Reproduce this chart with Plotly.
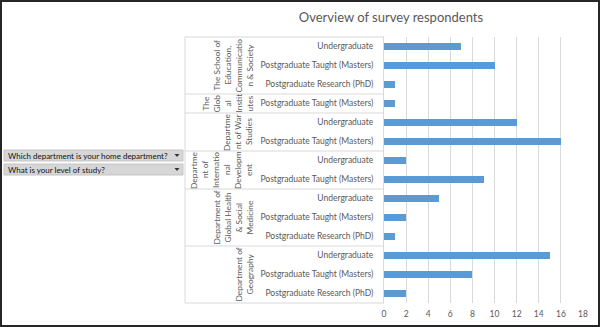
import plotly.graph_objects as go

# ---------------- data ----------------
departments = [
    "The School of Education, Communication & Society",
    "The Global Institutes",
    "Department of War Studies",
    "Department of International Development",
    "Department of Global Health & Social Medicine",
    "Department of Geography",
]
# wrapped as in the Excel axis
department_wrapped = [
    ["The School of", "Education,", "Communicatio", "n & Society"],
    ["The", "Glob", "al", "Instit", "utes"],
    ["Departme", "nt of War", "Studies"],
    ["Departme", "nt of", "Internatio", "nal", "Developm", "ent"],
    ["Department of", "Global Health", "& Social", "Medicine"],
    ["Department of", "Geography"],
]
levels = [
    ["Undergraduate", "Postgraduate Taught (Masters)", "Postgraduate Research (PhD)"],
    ["Postgraduate Taught (Masters)"],
    ["Undergraduate", "Postgraduate Taught (Masters)"],
    ["Undergraduate", "Postgraduate Taught (Masters)"],
    ["Undergraduate", "Postgraduate Taught (Masters)", "Postgraduate Research (PhD)"],
    ["Undergraduate", "Postgraduate Taught (Masters)", "Postgraduate Research (PhD)"],
]
counts = [
    [7, 10, 1],
    [1],
    [12, 16],
    [2, 9],
    [5, 2, 1],
    [15, 8, 2],
]
title_text = "Overview of survey respondents"
button_labels = ["Which department is your home department?", "What is your level of study?"]
x_ticks = [0, 2, 4, 6, 8, 10, 12, 14, 16, 18]

# ---------------- layout helpers ----------------
W, H = 600, 327
ML, MR, MT, MB = 384, 17, 37, 24
PW, PH = W - ML - MR, H - MT - MB


def px(xp):
    return (xp - ML) / PW


def py(yp):
    return (H - MB - yp) / PH


FONT = "Lato"
GRAY = "#595959"
LINE = "#d9d9d9"

labels, values, rows = [], [], []
for lv, ct in zip(levels, counts):
    for l, c in zip(lv, ct):
        rows.append(len(rows))
        labels.append(l)
        values.append(c)
n = len(rows)

fig = go.Figure()
fig.add_trace(go.Bar(
    x=values, y=rows, orientation="h", width=0.34,
    marker=dict(color="#5B9BD5", line=dict(width=0)),
    hoverinfo="x+text", text=labels, textposition="none",
))

shapes = []
annotations = []

# group separators and outer labels
start = 0
bounds = [0]
for i, lv in enumerate(levels):
    end = start + len(lv)
    bounds.append(end)
    lines = department_wrapped[i]
    k = len(lines)
    for j, ln in enumerate(lines):
        annotations.append(dict(
            text=ln, textangle=-90,
            xref="paper", yref="y", x=px(249 - (k - 1 - j) * 11), y=(start + end - 1) / 2,
            xanchor="center", yanchor="middle", showarrow=False, align="center",
            font=dict(family=FONT, size=8.4, color=GRAY),
        ))
    start = end
for b in bounds:
    yv = 1 - b / n
    shapes.append(dict(type="line", xref="paper", yref="paper",
                       x0=px(185), x1=0, y0=yv, y1=yv,
                       line=dict(color=LINE, width=1)))
shapes.append(dict(type="line", xref="paper", yref="paper",
                   x0=px(185), x1=px(185), y0=0, y1=1,
                   line=dict(color=LINE, width=1)))

# pivot field buttons
for k, lab in enumerate(button_labels):
    top = 150 + k * 14
    bot = top + 11
    shapes.append(dict(type="rect", xref="paper", yref="paper",
                       x0=px(4), x1=px(183), y0=py(bot), y1=py(top),
                       fillcolor="#d6d6d6", line=dict(color="#c4c4c4", width=1)))
    annotations.append(dict(
        text=lab, xref="paper", yref="paper", x=px(6), y=py((top + bot) / 2),
        xanchor="left", yanchor="middle", showarrow=False,
        font=dict(family=FONT, size=8, color="#111111"),
    ))
    cx, cy = 177, (top + bot) / 2
    shapes.append(dict(type="path", xref="paper", yref="paper",
                       path=f"M {px(cx-2.5)} {py(cy-1.5)} L {px(cx+2.5)} {py(cy-1.5)} L {px(cx)} {py(cy+1.5)} Z",
                       fillcolor="#333333", line=dict(width=0)))

# outer border
shapes.append(dict(type="rect", xref="paper", yref="paper",
                   x0=px(1), x1=px(W - 1), y0=py(H - 1), y1=py(1),
                   line=dict(color="#262626", width=2)))

fig.update_layout(
    width=W, height=H,
    margin=dict(l=ML, r=MR, t=MT, b=MB, pad=0, autoexpand=False),
    paper_bgcolor="white", plot_bgcolor="white",
    showlegend=False,
    bargap=0,
    title=dict(text=title_text, x=391 / W, y=1 - 17 / H, xref="container", yref="container",
               xanchor="center", yanchor="middle",
               font=dict(family=FONT, size=13, color=GRAY)),
    xaxis=dict(range=[0, 18], tickvals=x_ticks, showgrid=True, gridcolor=LINE, gridwidth=1,
               zeroline=False, showline=False, ticks="outside", ticklen=3,
               tickcolor="rgba(0,0,0,0)", automargin=False,
               tickfont=dict(family=FONT, size=8.5, color=GRAY), fixedrange=True),
    yaxis=dict(range=[n - 0.5, -0.5], tickvals=rows, ticktext=labels, showgrid=False,
               zeroline=False, showline=True, linecolor=LINE, linewidth=1, ticks="",
               ticklabelstandoff=8, automargin=False,
               tickfont=dict(family=FONT, size=8.5, color=GRAY), fixedrange=True),
    shapes=shapes, annotations=annotations,
    font=dict(family=FONT),
)

fig.write_html("out.html")
